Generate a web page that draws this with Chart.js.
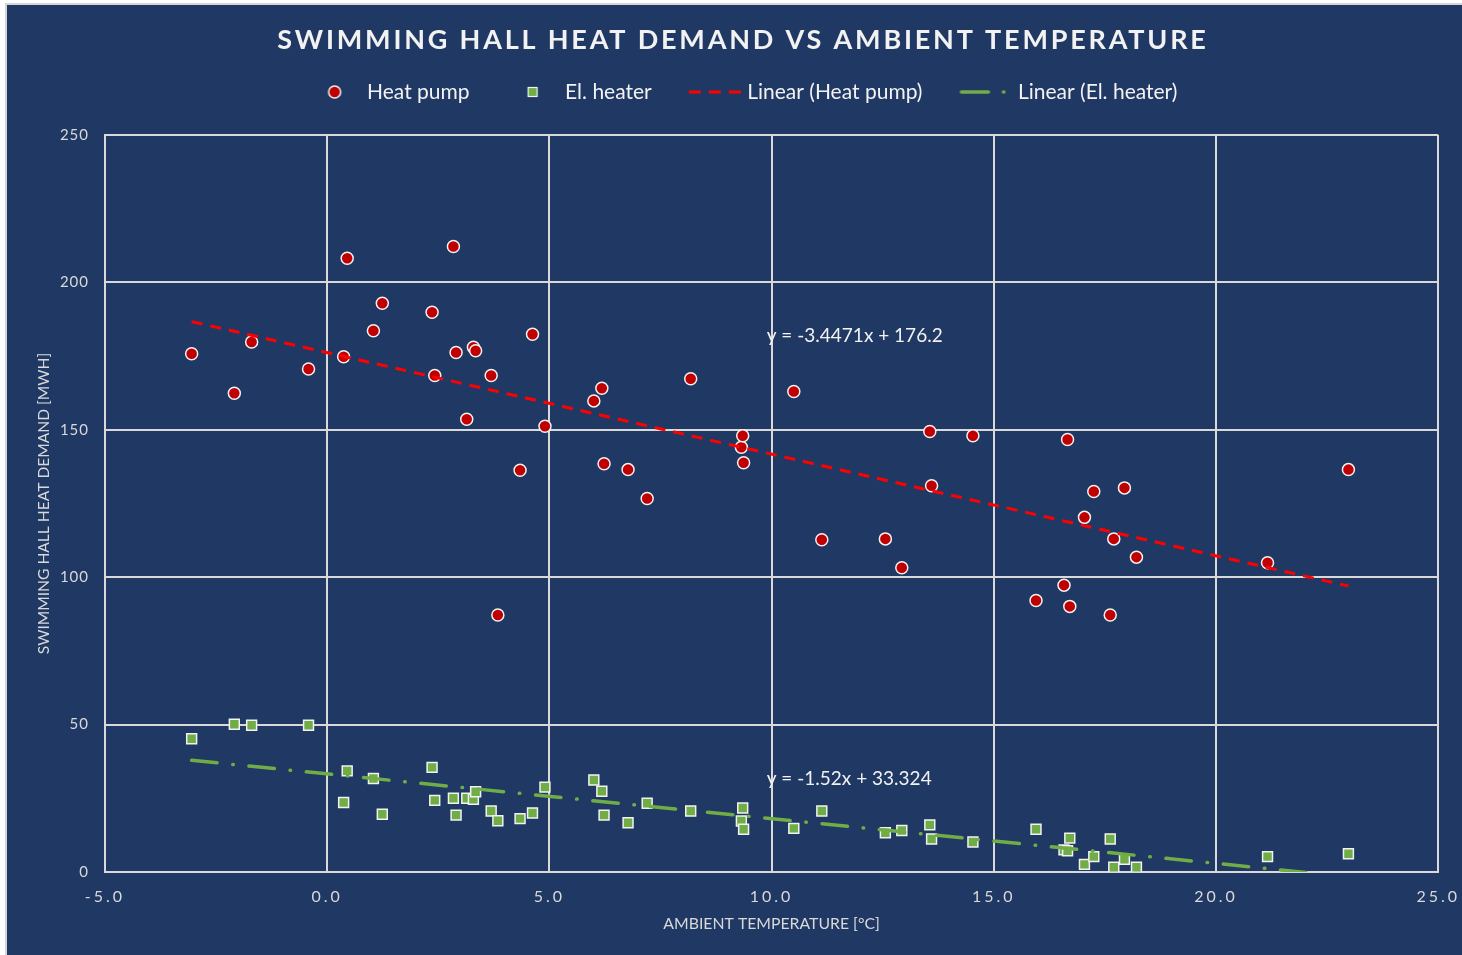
<!DOCTYPE html>
<html>
<head>
<meta charset="utf-8">
<title>Swimming hall heat demand vs ambient temperature</title>
<script src="https://cdn.jsdelivr.net/npm/chart.js@4.4.1/dist/chart.umd.min.js"></script>
<style>
  html, body { margin: 0; padding: 0; background: #ffffff; }
  #frame {
    position: absolute; left: 5px; top: 3px;
    border-left: 2px solid #d6d6d6; border-top: 2px solid #d6d6d6;
  }
  #wrap { width: 1455px; height: 950px; background: #203864; }
</style>
</head>
<body>
<div id="frame"><div id="wrap"><canvas id="heatChart" width="1455" height="950"></canvas></div></div>
<script>
// ambient temperature [°C] of each observation (shared by both series)
const temps = [
  -3.05, -2.09, -1.70, -0.42, 0.37, 0.45, 1.04, 1.24, 2.36, 2.42,
  2.84, 2.90, 3.14, 3.29, 3.34, 3.69, 3.84, 4.34, 4.62, 4.90,
  6.00, 6.18, 6.23, 6.77, 7.20, 8.18, 9.32, 9.35, 9.37, 10.50,
  11.13, 12.56, 12.93, 13.56, 13.60, 14.53, 15.95, 16.58, 16.66, 16.71,
  17.04, 17.25, 17.62, 17.70, 17.94, 18.21, 21.16, 22.98
];
// heat demand [MWh]
const heatPump = [
  175.8, 162.4, 179.8, 170.6, 174.8, 208.2, 183.6, 192.9, 189.9, 168.4,
  212.2, 176.2, 153.6, 178.0, 176.8, 168.4, 87.2, 136.3, 182.4, 151.2,
  159.8, 164.1, 138.5, 136.5, 126.7, 167.3, 144.1, 148.0, 138.8, 163.0,
  112.7, 113.0, 103.2, 149.4, 131.0, 148.0, 92.1, 97.3, 146.7, 90.1,
  120.3, 129.1, 87.2, 113.0, 130.3, 106.8, 104.9, 136.5
];
const elHeater = [
  45.2, 50.1, 49.8, 49.8, 23.6, 34.3, 31.7, 19.6, 35.5, 24.3,
  25.0, 19.3, 25.0, 24.7, 27.2, 20.7, 17.4, 18.1, 20.0, 28.8,
  31.2, 27.4, 19.3, 16.7, 23.3, 20.7, 17.3, 21.7, 14.5, 14.8,
  20.7, 13.3, 14.1, 16.0, 11.2, 10.2, 14.5, 7.5, 7.2, 11.5,
  2.6, 5.2, 11.2, 1.6, 4.3, 1.6, 5.2, 6.2
];
// trendline end points as drawn
const hpTrendX = [-3.05, 22.98];
const hpTrendY = [186.7, 97.0];
const ehTrendX = [-3.05, 22.98];
const ehTrendY = [37.9, -1.6];
const seriesNames = ['Heat pump', 'El. heater', 'Linear (Heat pump)', 'Linear (El. heater)'];
const equations = ['y = -3.4471x + 176.2', 'y = -1.52x + 33.324'];
const xTicks = { min: -5, max: 25, step: 5 };
const yTicks = { min: 0, max: 250, step: 50 };

const TEXT = '#D9D9D9';
const LIGHT = '#F2F2F2';
const RED_MARK = '#C00000';
const GREEN = '#70AD47';

const pts = (xs, ys) => xs.map((x, i) => ({ x, y: ys[i] }));

// small canvases used as legend symbols (symbol sits in the right 52px)
function symbol(draw) {
  const c = document.createElement('canvas');
  c.width = 70; c.height = 20;
  draw(c.getContext('2d'));
  return c;
}
const legendSymbols = [
  symbol(g => {
    g.beginPath(); g.arc(44, 10, 6, 0, Math.PI * 2);
    g.fillStyle = RED_MARK; g.fill();
    g.lineWidth = 1.5; g.strokeStyle = LIGHT; g.stroke();
  }),
  symbol(g => {
    g.fillStyle = GREEN; g.fillRect(39.5, 5.5, 9, 9);
    g.lineWidth = 1.2; g.strokeStyle = LIGHT; g.strokeRect(39.5, 5.5, 9, 9);
  }),
  symbol(g => {
    g.strokeStyle = '#FF0000'; g.lineWidth = 3; g.setLineDash([12, 8]);
    g.beginPath(); g.moveTo(18, 10); g.lineTo(70, 10); g.stroke();
  }),
  symbol(g => {
    g.strokeStyle = GREEN; g.lineWidth = 3.5; g.lineCap = 'round';
    g.setLineDash([27, 15, 0.5, 30]);
    g.beginPath(); g.moveTo(20, 10); g.lineTo(68, 10); g.stroke();
  })
];

// letter spacing (and small nudge) for tick labels, title and legend
function spaced(obj, fn, spacing, dx) {
  if (!obj || obj['_sp_' + fn]) return;
  const orig = obj[fn];
  obj[fn] = function (...args) {
    const ctx = this.ctx;
    ctx.save();
    ctx.letterSpacing = spacing;
    if (dx) ctx.translate(dx, 0);
    orig.apply(this, args);
    ctx.restore();
  };
  obj['_sp_' + fn] = true;
}
const spacingPlugin = {
  id: 'spacing',
  beforeDraw(chart) {
    spaced(chart.scales.x, 'drawLabels', '3px');
    spaced(chart.scales.y, 'drawLabels', '1px');
    spaced(chart.titleBlock, 'draw', '2.8px', 20);
    spaced(chart.legend, 'draw', '0px', 13);
  }
};

// trendline equations
const equationPlugin = {
  id: 'equations',
  afterDatasetsDraw(chart) {
    const { ctx, scales: { x, y } } = chart;
    const anchors = [[9.89, 181.9], [9.89, 31.5]];
    ctx.save();
    ctx.font = '19px Lato';
    ctx.fillStyle = LIGHT;
    ctx.textAlign = 'left';
    ctx.textBaseline = 'middle';
    equations.forEach((txt, i) => {
      ctx.fillText(txt, x.getPixelForValue(anchors[i][0]), y.getPixelForValue(anchors[i][1]));
    });
    ctx.restore();
  }
};

new Chart(document.getElementById('heatChart'), {
  type: 'scatter',
  data: {
    datasets: [
      {
        label: seriesNames[0],
        data: pts(temps, heatPump),
        backgroundColor: RED_MARK,
        borderColor: LIGHT,
        borderWidth: 1.5,
        pointRadius: 6,
        pointHoverRadius: 6,
        order: 1
      },
      {
        label: seriesNames[1],
        data: pts(temps, elHeater),
        pointStyle: 'rect',
        backgroundColor: GREEN,
        borderColor: LIGHT,
        borderWidth: 1.5,
        pointRadius: 7,
        pointHoverRadius: 7,
        order: 1
      },
      {
        type: 'line',
        label: seriesNames[2],
        data: pts(hpTrendX, hpTrendY),
        borderColor: '#FF0000',
        borderWidth: 3,
        borderDash: [11, 8],
        pointRadius: 0,
        fill: false,
        clip: 0,
        order: 0
      },
      {
        type: 'line',
        label: seriesNames[3],
        data: pts(ehTrendX, ehTrendY),
        borderColor: GREEN,
        borderWidth: 3.5,
        borderCapStyle: 'round',
        borderDash: [25.5, 15.8, 0.5, 15.8],
        pointRadius: 0,
        fill: false,
        clip: 0,
        order: 0
      }
    ]
  },
  options: {
    responsive: false,
    animation: false,
    devicePixelRatio: 1,
    layout: { padding: { left: 0, right: 23, top: 0, bottom: 0 } },
    plugins: {
      tooltip: { enabled: false },
      title: {
        display: true,
        text: 'SWIMMING HALL HEAT DEMAND VS AMBIENT TEMPERATURE',
        color: LIGHT,
        font: { family: 'Lato', size: 27, weight: 'bold', lineHeight: 1.2 },
        padding: { top: 19, bottom: 2.1 }
      },
      subtitle: {
        // empty spacer between legend and plot
        display: true,
        text: '',
        weight: 500,
        padding: 0,
        font: { size: 22.5, lineHeight: 1 }
      },
      legend: {
        labels: {
          usePointStyle: true,
          pointStyleWidth: 62,
          padding: 23,
          color: LIGHT,
          font: { family: 'Lato', size: 21 },
          generateLabels: () => seriesNames.map((name, i) => ({
            text: name,
            pointStyle: legendSymbols[i],
            fontColor: LIGHT,
            lineWidth: 0,
            datasetIndex: i,
            hidden: false
          }))
        }
      }
    },
    scales: {
      x: {
        type: 'linear',
        min: xTicks.min,
        max: xTicks.max,
        afterFit: s => { s.height = 83; },
        grid: { color: TEXT, lineWidth: 2, drawTicks: true, tickLength: 7, tickColor: 'transparent' },
        border: { color: TEXT, width: 2 },
        ticks: {
          stepSize: xTicks.step,
          color: TEXT,
          padding: 8,
          font: { family: 'Lato', size: 16 },
          callback: v => v.toFixed(1)
        },
        title: {
          display: true,
          text: 'AMBIENT TEMPERATURE [°C]',
          color: TEXT,
          font: { family: 'Lato', size: 15.8 },
          padding: { top: 0, bottom: 21.5 }
        }
      },
      y: {
        min: yTicks.min,
        max: yTicks.max,
        afterFit: s => { s.width = 98; },
        grid: { color: TEXT, lineWidth: 2, drawTicks: false },
        border: { color: TEXT, width: 2 },
        ticks: {
          stepSize: yTicks.step,
          color: TEXT,
          padding: 16,
          font: { family: 'Lato', size: 15 }
        },
        title: {
          display: true,
          text: 'SWIMMING HALL HEAT DEMAND [MWH]',
          color: TEXT,
          font: { family: 'Lato', size: 15.6 },
          padding: { top: 27.7, bottom: 0 }
        }
      }
    }
  },
  plugins: [spacingPlugin, equationPlugin]
});
</script>
</body>
</html>
